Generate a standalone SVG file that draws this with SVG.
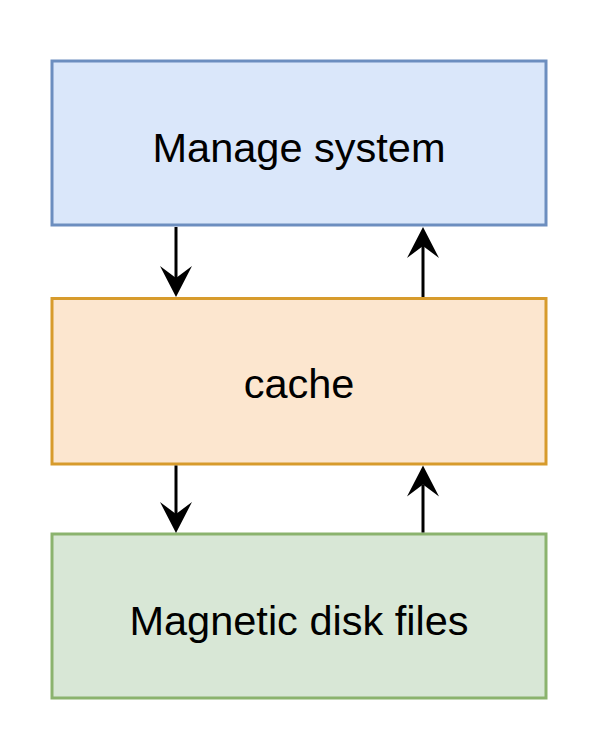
<svg xmlns="http://www.w3.org/2000/svg" width="600" height="748" viewBox="0 0 600 748">
  <defs>
    <marker id="arrow" markerUnits="userSpaceOnUse" viewBox="-13 -17 33 34" refX="0" refY="0" markerWidth="33" markerHeight="34" orient="auto" overflow="visible">
      <path d="M19,0 L-12,-16 L0,0 L-12,16 Z" fill="#000"/>
    </marker>
  </defs>
  <style>
    .box { stroke-width: 3; }
    .label { font-family: "Liberation Sans", Arial, Helvetica, sans-serif; font-size: 41.5px; fill: #000; text-anchor: middle; }
    .conn { stroke: #000; stroke-width: 3; fill: none; marker-end: url(#arrow); }
  </style>
  <rect width="600" height="748" fill="#ffffff"/>
  <g id="manage-system">
    <rect class="box" x="52" y="61" width="494" height="164" fill="#dae7fa" stroke="#6c8ebf"/>
    <text class="label" x="299" y="162">Manage system</text>
  </g>
  <g id="cache">
    <rect class="box" x="52" y="298.5" width="494" height="165.5" fill="#fce6cf" stroke="#d79b2c"/>
    <text class="label" x="299" y="398">cache</text>
  </g>
  <g id="magnetic-disk-files">
    <rect class="box" x="52" y="534" width="494" height="164" fill="#d8e7d6" stroke="#8bb36e"/>
    <text class="label" x="299" y="635">Magnetic disk files</text>
  </g>
  <g id="connectors">
    <line class="conn" x1="176" y1="227" x2="176" y2="278"/>
    <line class="conn" x1="423" y1="297" x2="423" y2="246"/>
    <line class="conn" x1="176" y1="465.5" x2="176" y2="514"/>
    <line class="conn" x1="423" y1="532.5" x2="423" y2="484.5"/>
  </g>
</svg>
